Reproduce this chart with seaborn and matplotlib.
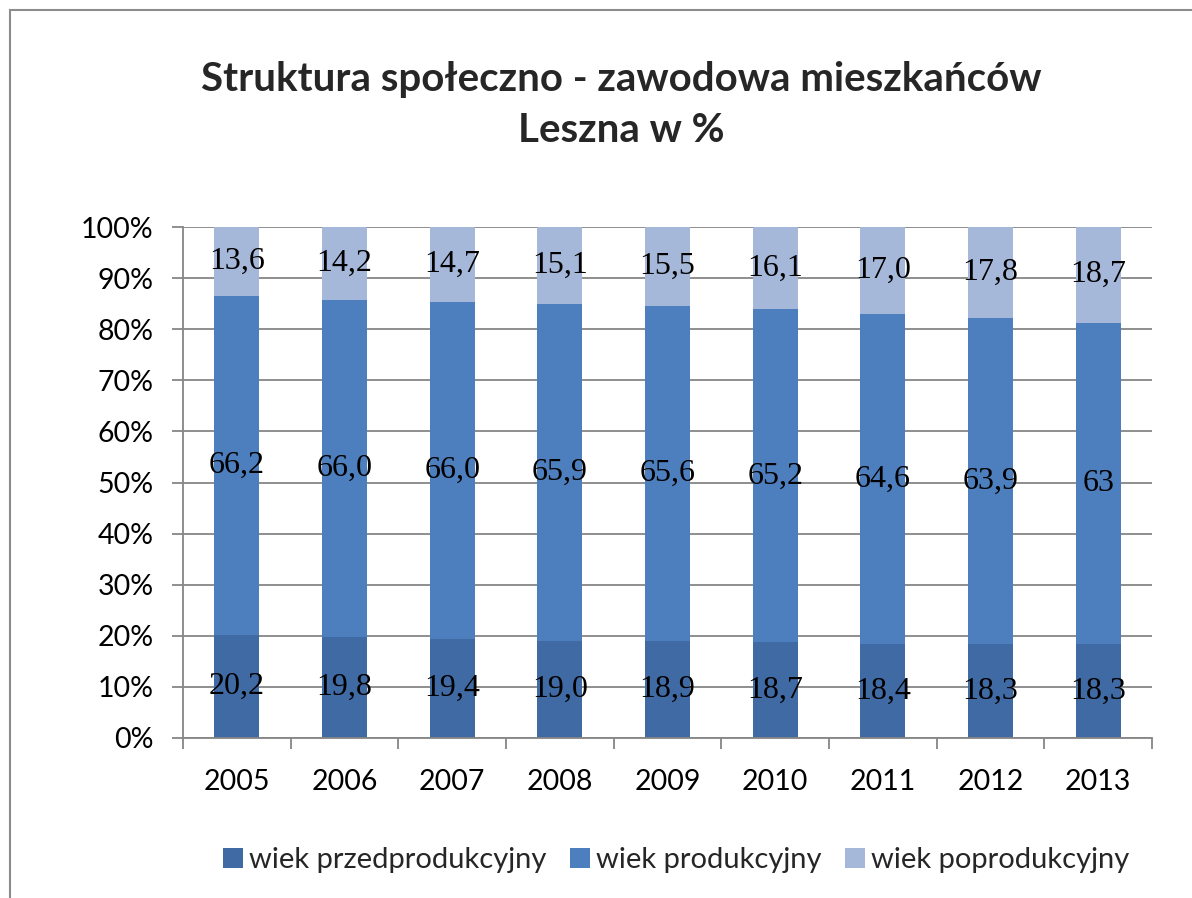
import numpy as np
import matplotlib
matplotlib.use("Agg")
import matplotlib.pyplot as plt
import seaborn as sns
from matplotlib.patches import Patch, Rectangle

# data as printed on the chart (polish decimal comma)
years = ["2005", "2006", "2007", "2008", "2009", "2010", "2011", "2012", "2013"]
przed = ["20,2", "19,8", "19,4", "19,0", "18,9", "18,7", "18,4", "18,3", "18,3"]
prod = ["66,2", "66,0", "66,0", "65,9", "65,6", "65,2", "64,6", "63,9", "63"]
popr = ["13,6", "14,2", "14,7", "15,1", "15,5", "16,1", "17,0", "17,8", "18,7"]
series_names = ["wiek przedprodukcyjny", "wiek produkcyjny", "wiek poprodukcyjny"]
colors = ["#3F6AA4", "#4D7FBE", "#A6B8DA"]

def to_num(lst):
    return np.array([float(s.replace(",", ".")) for s in lst])

sns.set_style("white")
plt.rcParams['font.family'] = ['Lato', 'DejaVu Sans']

fig = plt.figure(figsize=(11.92, 8.98), dpi=100)
ax = fig.add_axes([183/1192, 1-738/898, (1152-183)/1192, (738-227)/898])

bottom = np.zeros(len(years))
for labels, name, c in zip([przed, prod, popr], series_names, colors):
    vals = to_num(labels)
    sns.barplot(x=years, y=vals, order=years, bottom=bottom, color=c, width=0.42,
                saturation=1, ax=ax, linewidth=0)
    ax.bar_label(ax.containers[-1], labels=labels, label_type='center',
                 fontsize=23, family='Liberation Serif', color='black')
    bottom = bottom + vals

ax.set_ylim(0, 100)
ax.set_xlim(-0.5, len(years) - 0.5)
ax.set_yticks(np.arange(0, 101, 10))
ax.set_yticklabels([f"{v}%" for v in range(0, 101, 10)])
ax.yaxis.grid(True, color='#868686', linewidth=1.3)
ax.set_axisbelow(True)
ax.set_xlabel("")
ax.set_ylabel("")

for s in ['top', 'right']:
    ax.spines[s].set_visible(False)
for s in ['left', 'bottom']:
    ax.spines[s].set_color('#868686')
    ax.spines[s].set_linewidth(1.3)

ax.tick_params(axis='y', length=8, width=1.3, color='#868686', pad=13, labelsize=20.5,
               left=True, labelcolor='black')
ax.set_xticks(np.arange(-0.5, len(years)), minor=True)
ax.tick_params(axis='x', which='minor', length=8, width=1.3, color='#868686', bottom=True)
ax.tick_params(axis='x', which='major', length=0, pad=22, labelsize=20.5, labelcolor='black')

fig.text(0.521, 0.911, "Struktura społeczno - zawodowa mieszkańców", ha='center', va='center',
         fontsize=29, fontweight='bold')
fig.text(0.521, 0.855, "Leszna w %", ha='center', va='center', fontsize=29, fontweight='bold')

handles = [Patch(facecolor=c, edgecolor='none') for c in colors]
fig.legend(handles, series_names, loc='center', bbox_to_anchor=(0.567, 0.042), ncol=3,
           frameon=False, fontsize=21, handlelength=0.7, handleheight=0.7,
           handletextpad=0.2, columnspacing=0.8)

fig.add_artist(Rectangle((10/1192, -0.1), 1.2, 1.1 - 10/898, transform=fig.transFigure,
                         fill=False, edgecolor='#8c8c8c', linewidth=1.5))

fig.savefig("out.png", dpi=100)
